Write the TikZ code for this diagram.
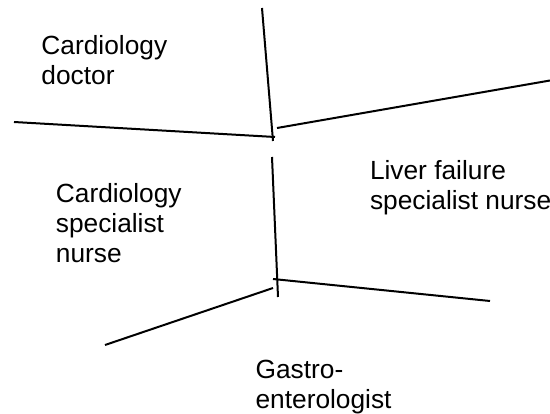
\documentclass[tikz,border=0pt]{standalone}
\usepackage{fontspec}
\setmainfont{Liberation Sans}
% lines of a label stacked so that the box sits on its first baseline
\newcommand\labellines[1]{\vtop{\baselineskip=30pt\lineskiplimit=-20pt\halign{##\hfil\cr#1\crcr}}}
\begin{document}
\begin{tikzpicture}[x=1pt,y=-1pt,
  divider/.style={line width=2pt, line cap=butt},
  label/.style={anchor=base west, inner sep=0pt,
    font=\fontsize{26.3}{30}\selectfont}]
  \useasboundingbox (0,0) rectangle (550,414);

  % end points of the dividing strokes
  \coordinate (vtA) at (262,8);   \coordinate (vtB) at (273,141);
  \coordinate (hlA) at (14,122);  \coordinate (hlB) at (275,137);
  \coordinate (hrA) at (277,128); \coordinate (hrB) at (550,80.5);
  \coordinate (vmA) at (272,157); \coordinate (vmB) at (278,297);
  \coordinate (lrA) at (273,279); \coordinate (lrB) at (490,301);
  \coordinate (llA) at (273,288); \coordinate (llB) at (105,345);

  \draw[divider] (vtA) -- (vtB);
  \draw[divider] (hlA) -- (hlB);
  \draw[divider] (hrA) -- (hrB);
  \draw[divider] (vmA) -- (vmB);
  \draw[divider] (lrA) -- (lrB);
  \draw[divider] (llA) -- (llB);

  % region labels
  \node[label] (cdoc) at (41.3,55) {\labellines{Cardiology\cr doctor}};
  \node[label] (cnurse) at (55.7,203) {\labellines{Cardiology\cr specialist\cr nurse}};
  \node[label] (lnurse) at (369.8,180) {\labellines{Liver failure\cr specialist nurse}};
  \node[label] (gastro) at (255.4,378.5) {\labellines{Gastro-\cr enterologist}};
\end{tikzpicture}
\end{document}
